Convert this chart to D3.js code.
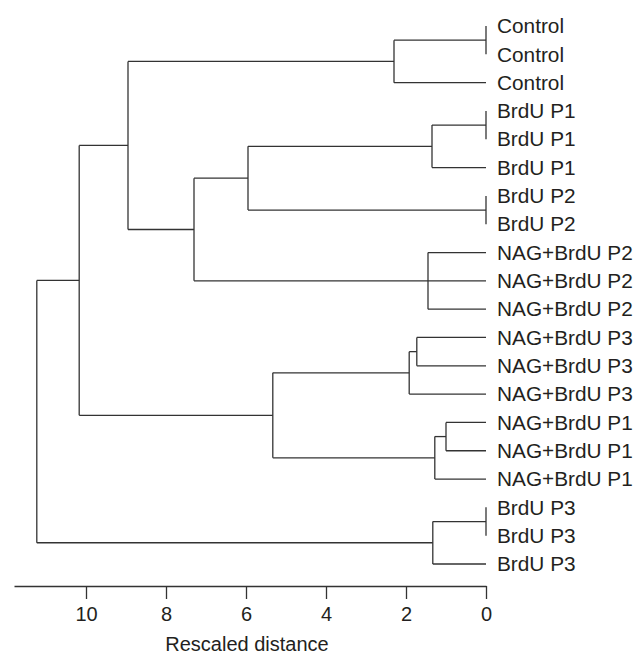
<!DOCTYPE html>
<html>
<head>
<meta charset="utf-8">
<script src="https://cdn.jsdelivr.net/npm/d3@7"></script>
<style>
  body { margin: 0; background: #fff; }
  text { font-family: "Liberation Sans", Arial, Helvetica, sans-serif; fill: #231f20; }
</style>
</head>
<body>
<div id="chart"></div>
<script>
const leafLabels = [
  "Control", "Control", "Control",
  "BrdU P1", "BrdU P1", "BrdU P1",
  "BrdU P2", "BrdU P2",
  "NAG+BrdU P2", "NAG+BrdU P2", "NAG+BrdU P2",
  "NAG+BrdU P3", "NAG+BrdU P3", "NAG+BrdU P3",
  "NAG+BrdU P1", "NAG+BrdU P1", "NAG+BrdU P1",
  "BrdU P3", "BrdU P3", "BrdU P3"
];

// agglomeration schedule: [cluster a, cluster b, rescaled distance]
// leaves are 0..19, each merge creates cluster 20, 21, ...
const merges = [
  [0, 1, 0],        // 20
  [20, 2, 2.3],     // 21
  [3, 4, 0],        // 22
  [22, 5, 1.35],    // 23
  [6, 7, 0],        // 24
  [23, 24, 5.95],   // 25
  [8, 9, 1.45],     // 26
  [26, 10, 1.45],   // 27
  [25, 27, 7.3],    // 28
  [21, 28, 8.95],   // 29
  [11, 12, 1.73],   // 30
  [30, 13, 1.92],   // 31
  [14, 15, 1.0],    // 32
  [32, 16, 1.28],   // 33
  [31, 33, 5.33],   // 34
  [29, 34, 10.17],  // 35
  [17, 18, 0],      // 36
  [36, 19, 1.33],   // 37
  [35, 37, 11.23]   // 38
];

const tickValues = [0, 2, 4, 6, 8, 10];
const axisTitle = "Rescaled distance";

const width = 637, height = 657;
const lineColor = "#333";

const svg = d3.select("#chart").append("svg")
  .attr("width", width)
  .attr("height", height);

// build tree, collapsing merges at equal height into one node
const clusters = leafLabels.map((name, i) => ({ name, height: 0, index: i }));
merges.forEach(([a, b, h]) => {
  let kids = [];
  [clusters[a], clusters[b]].forEach(c => {
    if (c.children && c.height === h && h > 0) kids = kids.concat(c.children);
    else kids.push(c);
  });
  clusters.push({ height: h, children: kids });
});
const root = d3.hierarchy(clusters[clusters.length - 1]);

const x = d3.scaleLinear().domain([0, 11.8]).range([486, 14]);
const y = d3.scalePoint().domain(d3.range(leafLabels.length)).range([26, 564]);

root.eachAfter(n => {
  if (!n.children) n.y = y(n.data.index);
  else n.y = (n.children[0].y + n.children[n.children.length - 1].y) / 2;
  n.x = x(n.data.height);
});

const g = svg.append("g")
  .attr("fill", "none")
  .attr("stroke", lineColor)
  .attr("stroke-width", 1.3);

// dendrogram links: one vertical per cluster, horizontals to each child
root.descendants().filter(n => n.children).forEach(n => {
  g.append("line")
    .attr("x1", n.x).attr("x2", n.x)
    .attr("y1", n.children[0].y)
    .attr("y2", n.children[n.children.length - 1].y);
  n.children.forEach(c => {
    if (c.x === n.x) return;
    g.append("line")
      .attr("x1", c.x).attr("x2", n.x)
      .attr("y1", c.y).attr("y2", c.y);
  });
});

// leaf labels
svg.selectAll("text.leaf")
  .data(root.leaves())
  .enter()
  .append("text")
  .attr("class", "leaf")
  .attr("transform", d => "translate(" + (x(0) + 11) + "," + d.y + ") scale(1.04,1)")
  .attr("dy", "0.36em")
  .style("font-size", "20px")
  .text(d => d.data.name);

// axis
const axis = d3.axisBottom(x)
  .tickValues(tickValues)
  .tickSize(13)
  .tickSizeOuter(0)
  .tickPadding(8)
  .tickFormat(d3.format("d"));

const axisG = svg.append("g")
  .attr("transform", "translate(0,586)")
  .call(axis);

axisG.select(".domain").attr("stroke", lineColor).attr("stroke-width", 1.3);
axisG.selectAll(".tick line").attr("stroke", lineColor).attr("stroke-width", 1.3);
axisG.selectAll(".tick text")
  .attr("fill", "#231f20")
  .style("font-size", "20px")
  .style("font-family", "'Liberation Sans', Arial, sans-serif");

svg.append("text")
  .attr("x", 247)
  .attr("y", 651)
  .attr("text-anchor", "middle")
  .style("font-size", "20px")
  .text(axisTitle);
</script>
</body>
</html>
